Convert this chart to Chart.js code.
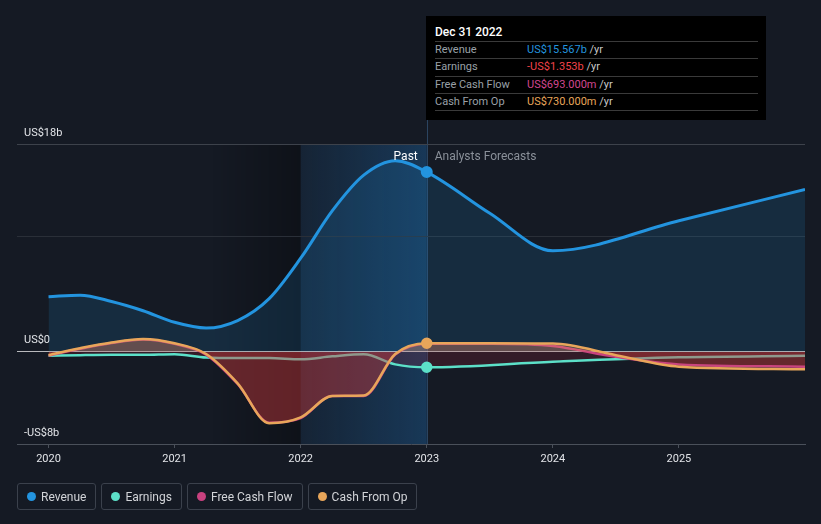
<!DOCTYPE html>
<html>
<head>
<meta charset="utf-8">
<script src="https://cdn.jsdelivr.net/npm/chart.js@4.4.0/dist/chart.umd.min.js"></script>
<style>
  body { margin: 0; background: #151a24; font-family: Roboto, "Noto Sans", sans-serif; }
  #wrap { position: relative; width: 821px; height: 524px; overflow: hidden; }
  #chart { position: absolute; left: 0; top: 0; }
  #tip { position: absolute; left: 426px; top: 16px; width: 340px; height: 104px; background: #000; color: #fff; }
  #tip .title { position: absolute; left: 9px; top: 9px; font-size: 12px; font-weight: 500; }
  #tip .rows { position: absolute; left: 9px; top: 25px; width: 323px; border-bottom: 1px solid #3a3a3a; }
  #tip .row { height: 16.3px; line-height: 16.3px; border-top: 1px solid #3a3a3a; font-size: 11px; color: #9aa0a8; position: relative; }
  #tip .row span { position: absolute; left: 92px; }
  #tip .unit { color: #c8c8c8; }
  #legend { position: absolute; left: 17px; top: 483px; display: flex; gap: 5px; }
  .item { height: 25px; border: 1px solid #3b414c; border-radius: 3px; display: flex; align-items: center; padding: 0 9px; font-size: 12px; color: #d2d4d8; }
  .dot { width: 9px; height: 9px; border-radius: 50%; margin-right: 5px; }
</style>
</head>
<body>
<div id="wrap">
  <canvas id="chart" width="821" height="524"></canvas>
  <div id="tip">
    <div class="title">Dec 31 2022</div>
    <div class="rows">
      <div class="row">Revenue<span><b style="font-weight:400;color:#2394df">US$15.567b</b> <i class="unit" style="font-style:normal">/yr</i></span></div>
      <div class="row">Earnings<span><b style="font-weight:400;color:#f0434a">-US$1.353b</b> <i class="unit" style="font-style:normal">/yr</i></span></div>
      <div class="row">Free Cash Flow<span><b style="font-weight:400;color:#d2478f">US$693.000m</b> <i class="unit" style="font-style:normal">/yr</i></span></div>
      <div class="row">Cash From Op<span><b style="font-weight:400;color:#e8a65a">US$730.000m</b> <i class="unit" style="font-style:normal">/yr</i></span></div>
    </div>
  </div>
  <div id="legend"></div>
</div>
<script>
// past quarters + forecast points (year as decimal), values in US$ billions
const pastYears = [2020, 2020.25, 2020.5, 2020.75, 2021, 2021.25, 2021.5, 2021.75, 2022, 2022.25, 2022.5, 2022.75, 2023];

const revenueYears = pastYears.concat([2023.5, 2024, 2025, 2026]);
const revenueValues = [4.77, 4.9, 4.35, 3.55, 2.55, 2.05, 2.7, 4.6, 8.1, 12.2, 15.3, 16.55, 15.567, 12.0, 8.75, 11.35, 14.07];

const earningsYears = pastYears.concat([2024, 2025, 2026]);
const earningsValues = [-0.35, -0.3, -0.27, -0.27, -0.22, -0.5, -0.55, -0.55, -0.66, -0.4, -0.22, -1.1, -1.353, -0.87, -0.49, -0.35];

const cashYears = pastYears.concat([2023.5, 2024, 2024.5, 2025, 2026]);
const fcfValues = [-0.34, 0.25, 0.75, 1.05, 0.68, -0.25, -2.8, -6.15, -5.75, -3.85, -3.85, -0.25, 0.693, 0.69, 0.5, -0.45, -1.1, -1.3];
const cfoValues = [-0.29, 0.3, 0.8, 1.1, 0.73, -0.2, -2.74, -6.2, -5.7, -3.84, -3.8, -0.2, 0.73, 0.73, 0.7, -0.3, -1.3, -1.53];

const yTicks = [-8, 0, 10, 18];
const yTickLabels = { "-8": "-US$8b", "0": "US$0", "18": "US$18b" };
const xTicks = [2020, 2021, 2022, 2023, 2024, 2025];
const nowYear = 2023;

const seriesNames = ["Revenue", "Earnings", "Free Cash Flow", "Cash From Op"];
const seriesColors = ["#2394df", "#5ce0c8", "#c8417f", "#e8a65a"];

function toPoints(xs, ys) {
  return xs.map((x, i) => ({ x: x, y: ys[i] }));
}

function markNow(ctx) {
  return ctx.raw && ctx.raw.x === nowYear ? 4.5 : 0;
}

//--BACKGROUND BANDS-----------------------------------------------------------
const bandsPlugin = {
  id: "bands",
  beforeDraw(chart) {
    const ctx = chart.ctx;
    const area = chart.chartArea;
    const xs = chart.scales.x;
    const x0 = xs.getPixelForValue(2021.3);
    const x1 = xs.getPixelForValue(2022);
    const x2 = xs.getPixelForValue(nowYear);
    ctx.save();
    let g = ctx.createLinearGradient(x0, 0, x1, 0);
    g.addColorStop(0, "rgba(0,0,0,0)");
    g.addColorStop(1, "rgba(0,0,0,0.3)");
    ctx.fillStyle = g;
    ctx.fillRect(x0, area.top, x1 - x0, area.bottom - area.top);
    g = ctx.createLinearGradient(x1, 0, x2, 0);
    g.addColorStop(0, "rgba(30,110,180,0.12)");
    g.addColorStop(1, "rgba(30,110,180,0.36)");
    ctx.fillStyle = g;
    ctx.fillRect(x1, area.top, x2 - x1, area.bottom - area.top);
    ctx.strokeStyle = "rgba(70,120,170,0.45)";
    ctx.lineWidth = 1;
    ctx.beginPath();
    ctx.moveTo(Math.round(x2) + 0.5, area.top - 30);
    ctx.lineTo(Math.round(x2) + 0.5, area.bottom);
    ctx.stroke();
    ctx.restore();
  },
  afterDatasetsDraw(chart) {
    const ctx = chart.ctx;
    const x2 = chart.scales.x.getPixelForValue(nowYear);
    const yy = chart.chartArea.top + 12.5;
    ctx.save();
    ctx.font = "12px Roboto";
    ctx.textBaseline = "middle";
    ctx.textAlign = "right";
    ctx.fillStyle = "#ffffff";
    ctx.fillText("Past", x2 - 9, yy);
    ctx.textAlign = "left";
    ctx.fillStyle = "#8a9099";
    ctx.fillText("Analysts Forecasts", x2 + 8, yy);
    ctx.restore();
  },
};

//--DRAW CHART-----------------------------------------------------------------
function drawChart() {
  const ctx = document.getElementById("chart").getContext("2d");
  const chart = new Chart(ctx, {
    type: "line",
    data: {
      datasets: [
        {
          label: seriesNames[0],
          data: toPoints(revenueYears, revenueValues),
          borderColor: seriesColors[0],
          backgroundColor: seriesColors[0],
          borderWidth: 3,
          fill: { target: "origin", above: "rgba(35,148,223,0.15)", below: "rgba(35,148,223,0.15)" },
          order: 4,
        },
        {
          label: seriesNames[1],
          data: toPoints(earningsYears, earningsValues),
          borderColor: seriesColors[1],
          backgroundColor: seriesColors[1],
          borderWidth: 2.5,
          fill: { target: "origin", above: "rgba(92,224,200,0.1)", below: "rgba(190,40,60,0.18)" },
          order: 3,
        },
        {
          label: seriesNames[2],
          data: toPoints(cashYears, fcfValues),
          borderColor: seriesColors[2],
          backgroundColor: seriesColors[2],
          borderWidth: 2.5,
          fill: { target: "origin", above: "rgba(200,65,127,0.18)", below: "rgba(210,45,55,0.4)" },
          pointRadius: 0,
          order: 2,
        },
        {
          label: seriesNames[3],
          data: toPoints(cashYears, cfoValues),
          borderColor: seriesColors[3],
          backgroundColor: seriesColors[3],
          borderWidth: 2.5,
          fill: { target: "origin", above: "rgba(232,166,90,0.25)", below: "rgba(232,166,90,0.04)" },
          order: 1,
        },
      ],
    },
    options: {
      responsive: false,
      animation: false,
      layout: { padding: { left: 17, right: 16, top: 144, bottom: 56 } },
      elements: {
        line: { cubicInterpolationMode: "monotone" },
        point: { radius: markNow, hoverRadius: markNow, borderColor: "#ffffff", borderWidth: 1.5 },
      },
      plugins: { legend: { display: false }, tooltip: { enabled: false } },
      scales: {
        x: {
          type: "linear",
          min: 2019.75,
          max: 2026,
          afterBuildTicks: (s) => { s.ticks = xTicks.map((v) => ({ value: v })); },
          afterFit: (s) => { s.height = 24; },
          ticks: { color: "#e2e4e8", font: { family: "Roboto", size: 11 }, padding: 5, maxRotation: 0, callback: (v) => String(v) },
          grid: { drawOnChartArea: false, drawTicks: true, tickLength: 4, color: "#4a505a" },
          border: { display: true, color: "#4a505a", width: 1 },
        },
        y: {
          type: "linear",
          min: -8,
          max: 18,
          afterBuildTicks: (s) => { s.ticks = yTicks.map((v) => ({ value: v })); },
          afterFit: (s) => { s.width = 0; },
          ticks: {
            mirror: true,
            padding: 7,
            labelOffset: -11,
            color: "#e2e4e8",
            font: { family: "Roboto", size: 11 },
            callback: (v) => yTickLabels[String(v)] || "",
          },
          grid: {
            drawTicks: false,
            color: (c) => {
              const v = c.tick ? c.tick.value : null;
              if (v === 0) return "rgba(255,255,255,0.7)";
              if (v === 18) return "#3d424b";
              if (v === 10) return "#2a2f38";
              return "rgba(0,0,0,0)";
            },
          },
          border: { display: false },
        },
      },
    },
    plugins: [bandsPlugin],
  });
  return chart;
}

function drawLegend() {
  const legend = document.getElementById("legend");
  seriesNames.forEach((name, i) => {
    legend.innerHTML += `<div class="item"><div class="dot" style="background:${seriesColors[i]}"></div>${name}</div>`;
  });
}

drawChart();
drawLegend();
</script>
</body>
</html>
